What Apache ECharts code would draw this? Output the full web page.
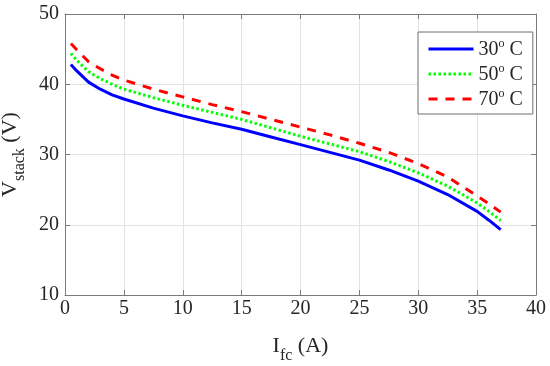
<!DOCTYPE html>
<html><head><meta charset="utf-8">
<script src="https://cdn.jsdelivr.net/npm/echarts@6/dist/echarts.min.js"></script>
<style>html,body{margin:0;padding:0;background:#fff}#c{width:550px;height:366px}</style>
</head><body><div id="c"></div>
<script>
// Data
const currentA = [0.5, 1, 2, 3, 4, 5, 7.5, 10, 12.5, 15, 17.5, 20, 22.5, 25, 27.5, 30, 32.5, 35, 36, 37];
const v30 = [42.8, 41.9, 40.3, 39.3, 38.5, 37.9, 36.6, 35.5, 34.5, 33.6, 32.5, 31.4, 30.3, 29.2, 27.8, 26.2, 24.3, 21.9, 20.65, 19.3];
const v50 = [44.4, 43.4, 41.8, 40.8, 40.0, 39.3, 38.1, 37.0, 36.0, 35.0, 33.8, 32.6, 31.5, 30.4, 29.0, 27.4, 25.5, 23.1, 21.9, 20.6];
const v70 = [45.8, 44.9, 43.2, 42.2, 41.3, 40.6, 39.3, 38.2, 37.1, 36.1, 35.0, 33.9, 32.8, 31.6, 30.3, 28.7, 26.8, 24.1, 23.0, 21.8];
const temps = ['30', '50', '70'];
const xTicks = {min: 0, max: 40, interval: 5};
const yTicks = {min: 10, max: 50, interval: 10};

const serif = 'Liberation Serif';
const axisColor = '#7a7a7a';
const labelColor = '#262626';

function pairs(xs, ys) { return xs.map((x, i) => [x, ys[i]]); }

const chart = echarts.init(document.getElementById('c'), null, {renderer: 'canvas'});
const baseX = {
  type: 'value', min: xTicks.min, max: xTicks.max, interval: xTicks.interval,
  axisLine: {show: true, onZero: false, lineStyle: {color: axisColor, width: 1}},
  axisTick: {show: true, inside: true, length: 5, lineStyle: {color: axisColor}},
  splitLine: {show: false}
};
const baseY = {
  type: 'value', min: yTicks.min, max: yTicks.max, interval: yTicks.interval,
  axisLine: {show: true, onZero: false, lineStyle: {color: axisColor, width: 1}},
  axisTick: {show: true, inside: true, length: 5, lineStyle: {color: axisColor}},
  splitLine: {show: false}
};
const nameRich = {
  m: {fontFamily: serif, fontSize: 22, color: labelColor, verticalAlign: 'top', lineHeight: 26},
  s: {fontFamily: serif, fontSize: 16, color: labelColor, verticalAlign: 'bottom', lineHeight: 29}
};

const names = temps.map(t => t + '° C');
chart.setOption({
  animation: false,
  backgroundColor: '#ffffff',
  grid: {left: 65, right: 14, top: 14, bottom: 71, containLabel: false, outerBoundsMode: 'none'},
  xAxis: [
    Object.assign({}, baseX, {
      position: 'bottom',
      splitLine: {show: true, lineStyle: {color: '#e3e3e3', width: 1}},
      axisLabel: {fontFamily: serif, fontSize: 20, color: labelColor, margin: 4},
      name: '{m|I}{s|fc}{m| (A)}', nameLocation: 'middle', nameGap: 40,
      nameTextStyle: {rich: nameRich}
    }),
    Object.assign({}, baseX, {position: 'top', axisLabel: {show: false}})
  ],
  yAxis: [
    Object.assign({}, baseY, {
      position: 'left',
      splitLine: {show: true, lineStyle: {color: '#e3e3e3', width: 1}},
      axisLabel: {fontFamily: serif, fontSize: 20, color: labelColor, margin: 6},
      name: '{m|V}{s|stack}{m| (V)}', nameLocation: 'middle', nameGap: 31,
      nameTextStyle: {rich: nameRich}
    }),
    Object.assign({}, baseY, {position: 'right', axisLabel: {show: false}})
  ],
  legend: {
    show: true,
    orient: 'vertical', left: 418, top: 32,
    backgroundColor: '#ffffff', borderColor: '#6e6e6e', borderWidth: 1,
    padding: [6, 10, 4, 9], itemGap: 3, itemWidth: 45, itemHeight: 14,
    data: names,
    itemStyle: {color: 'rgba(0,0,0,0)', borderWidth: 0, opacity: 0},
    lineStyle: {width: 3},
    formatter: function (name) {
      const t = name.split('°')[0];
      return '{n|' + t + '}{s|o}{n| C}';
    },
    textStyle: {
      rich: {
        n: {fontFamily: serif, fontSize: 20, color: labelColor, verticalAlign: 'bottom', lineHeight: 22},
        s: {fontFamily: serif, fontSize: 12, color: labelColor, verticalAlign: 'top', lineHeight: 22}
      }
    }
  },
  series: [
    {name: names[0], type: 'line', xAxisIndex: 0, yAxisIndex: 0, data: pairs(currentA, v30),
     showSymbol: false, symbol: 'none', lineStyle: {color: '#0000ff', width: 3, type: 'solid'}, itemStyle: {color: '#0000ff'}},
    {name: names[1], type: 'line', xAxisIndex: 0, yAxisIndex: 0, data: pairs(currentA, v50),
     showSymbol: false, symbol: 'none', lineStyle: {color: '#00ff00', width: 3, type: [2.5, 2.5]}, itemStyle: {color: '#00ff00'}},
    {name: names[2], type: 'line', xAxisIndex: 0, yAxisIndex: 0, data: pairs(currentA, v70),
     showSymbol: false, symbol: 'none', lineStyle: {color: '#ff0000', width: 3, type: [9, 8]}, itemStyle: {color: '#ff0000'}}
  ]
});
</script></body></html>
